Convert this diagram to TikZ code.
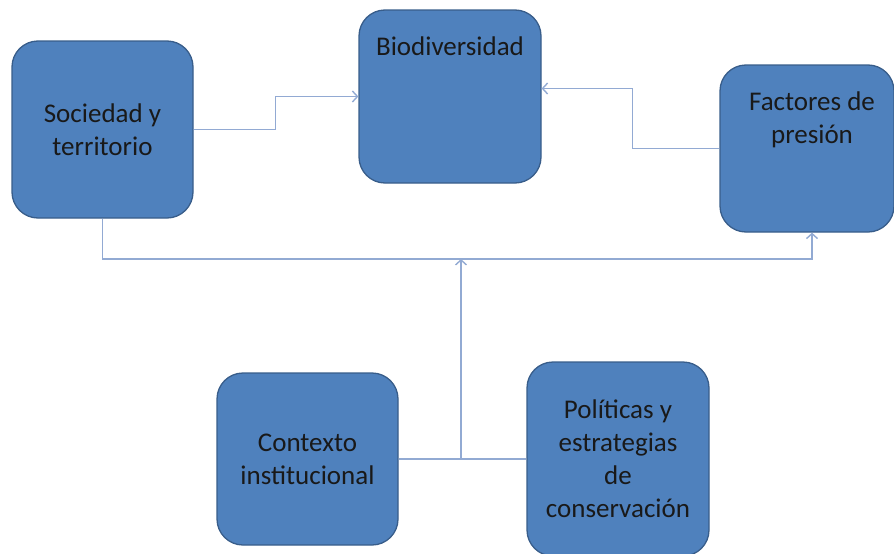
\documentclass[tikz,border=0pt]{standalone}
\usepackage{fontspec}
\setmainfont{Carlito}
\usetikzlibrary{arrows.meta}
\definecolor{boxfill}{RGB}{79,129,189}
\definecolor{boxline}{RGB}{56,93,138}
\definecolor{linkcol}{RGB}{146,170,211}
\begin{document}
\begin{tikzpicture}[x=1pt,y=-1pt,
    block/.style={draw=boxline,line width=1.3pt,fill=boxfill,rounded corners=26pt,
        align=center,inner sep=0pt,text=black!90,
        font=\fontsize{27}{33}\selectfont},
    link/.style={draw=linkcol,line width=1.4pt},
    arr/.style={link,-{Straight Barb[length=5pt,width=11pt]}}]
                    \useasboundingbox (0,0) rectangle (894,554);
                    \node [block,minimum width=181pt,minimum height=177pt] (soc) at (102.5,129.5) {Sociedad y\\territorio};
                    \node [block,minimum width=182pt,minimum height=173pt] (bio) at (450,96.5) {};
                    \node [block,minimum width=174pt,minimum height=167pt] (fac) at (807,148.5) {};
                    \node [block,minimum width=181pt,minimum height=172pt] (ctx) at (307.5,459) {Contexto\\institucional};
                    \node [block,minimum width=182pt,minimum height=194pt] (pol) at (618,459) {Políticas y\\estrategias\\de\\conservación};
                    \node [font=\fontsize{27}{33}\selectfont,text=black!90,anchor=north] (biotxt) at ([yshift=-24pt]bio.north) {Biodiversidad};
                    \node [font=\fontsize{27}{33}\selectfont,text=black!90,align=center,anchor=north] (factxt) at ([xshift=5pt,yshift=-24pt]fac.north) {Factores de\\presión};
                    \coordinate (meet) at (461,459);
                    \coordinate (bus) at (461,259);
                    \draw [arr] (soc.east)--++(82,0)|-(bio.west);
                    \draw [arr] (fac.west)--++(-87,0)|-([yshift=8pt]bio.east);
                    \draw [arr] (soc.south)--(soc.south |- bus)-|([xshift=5pt]fac.south);
                    \draw [link] (ctx.east)--(pol.west);
                    \draw [arr] (meet)--(bus);
            \end{tikzpicture}
\end{document}
